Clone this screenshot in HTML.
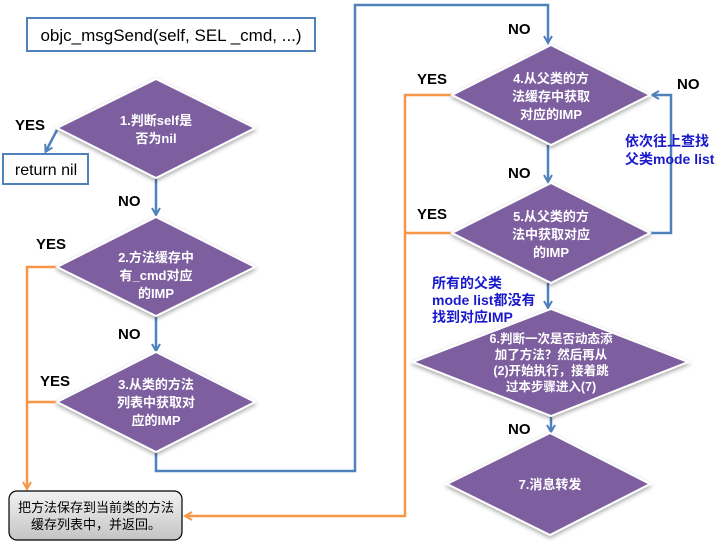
<!DOCTYPE html>
<html><head><meta charset="utf-8"><style>
html,body{margin:0;padding:0;background:#fff;width:721px;height:544px;overflow:hidden}
svg{display:block}
.dt{fill:#fff;font-family:"Liberation Sans","Noto Sans CJK SC",sans-serif;font-size:13px;font-weight:bold;text-anchor:middle}
.lb{fill:#000;font-family:"Liberation Sans","Noto Sans CJK SC",sans-serif;font-size:15px;font-weight:bold}
.bl{fill:#1a1acc;font-family:"Liberation Sans","Noto Sans CJK SC",sans-serif;font-size:14px;font-weight:bold}
.d{fill:#7d5fa0;stroke:#fff;stroke-width:2;filter:url(#sh)}
</style></head><body>
<svg width="721" height="544" viewBox="0 0 721 544" xmlns="http://www.w3.org/2000/svg">
<defs>
<filter id="sh" x="-10%" y="-10%" width="120%" height="130%"><feDropShadow dx="0" dy="2" stdDeviation="2" flood-color="#000" flood-opacity="0.35"/></filter>
<marker id="ab" markerWidth="10" markerHeight="10" refX="7" refY="5" orient="auto" markerUnits="userSpaceOnUse"><path d="M1,1 L8,5 L1,9" fill="none" stroke="#4f81bd" stroke-width="2"/></marker>
<marker id="ao" markerWidth="10" markerHeight="10" refX="7" refY="5" orient="auto" markerUnits="userSpaceOnUse"><path d="M1,1 L8,5 L1,9" fill="none" stroke="#f79646" stroke-width="2"/></marker>
<linearGradient id="gb" x1="0" y1="0" x2="0" y2="1"><stop offset="0" stop-color="#f2f2f2"/><stop offset="1" stop-color="#c4c4c4"/></linearGradient>
</defs>

<rect x="27" y="18" width="288" height="33" fill="#fff" stroke="#4f81bd" stroke-width="2"/>
<text x="171" y="41" text-anchor="middle" style="font-family:'Liberation Sans',sans-serif;font-size:17px">objc_msgSend(self, SEL _cmd, ...)</text>

<rect x="3" y="154" width="85" height="30" fill="#fff" stroke="#4f81bd" stroke-width="2"/>
<text x="46" y="175" text-anchor="middle" style="font-family:'Liberation Sans',sans-serif;font-size:16px">return nil</text>

<g fill="none" stroke="#4f81bd" stroke-width="2.5">
<path d="M57,130 L46,151" marker-end="url(#ab)"/>
<path d="M156,178 L156,214" marker-end="url(#ab)"/>
<path d="M156,316 L156,350" marker-end="url(#ab)"/>
<path d="M156,452 L156,471 L355,471 L355,5 L548,5 L548,42" marker-end="url(#ab)"/>
<path d="M548,145 L548,181" marker-end="url(#ab)"/>
<path d="M650,233 L671,233 L671,95 L653,95" marker-end="url(#ab)"/>
<path d="M548,283 L548,307" marker-end="url(#ab)"/>
<path d="M551,416 L551,431" marker-end="url(#ab)"/>
</g>
<g fill="none" stroke="#f79646" stroke-width="2.5">
<path d="M57,267 L27,267 L27,488" marker-end="url(#ao)"/>
<path d="M57,402 L27,402"/>
<path d="M452,95 L405,95 L405,516 L186,516" marker-end="url(#ao)"/>
<path d="M452,233 L405,233"/>
</g>

<polygon class="d" points="156,79 255,128 156,178 57,128"/>
<polygon class="d" points="156,217 255,267 156,316 57,267"/>
<polygon class="d" points="156,352 255,402 156,452 57,402"/>
<polygon class="d" points="551,45 650,95 551,145 452,95"/>
<polygon class="d" points="551,183 650,233 551,283 452,233"/>
<polygon class="d" points="551,309 688,362 551,416 413,362"/>
<polygon class="d" points="550,433 650,484 550,535 447,484"/>

<text class="dt" x="156" y="125">1.判断self是</text>
<text class="dt" x="156" y="143">否为nil</text>
<text class="dt" x="156" y="262">2.方法缓存中</text>
<text class="dt" x="156" y="280">有_cmd对应</text>
<text class="dt" x="156" y="298">的IMP</text>
<text class="dt" x="156" y="389">3.从类的方法</text>
<text class="dt" x="156" y="407">列表中获取对</text>
<text class="dt" x="156" y="425">应的IMP</text>
<text class="dt" x="551" y="83">4.从父类的方</text>
<text class="dt" x="551" y="101">法缓存中获取</text>
<text class="dt" x="551" y="119">对应的IMP</text>
<text class="dt" x="551" y="221">5.从父类的方</text>
<text class="dt" x="551" y="239">法中获取对应</text>
<text class="dt" x="551" y="257">的IMP</text>
<text class="dt" x="551" y="343" style="font-size:12.5px">6.判断一次是否动态添</text>
<text class="dt" x="551" y="359" style="font-size:12.5px">加了方法？然后再从</text>
<text class="dt" x="551" y="375" style="font-size:12.5px">(2)开始执行，接着跳</text>
<text class="dt" x="551" y="391" style="font-size:12.5px">过本步骤进入(7)</text>
<text class="dt" x="550" y="489">7.消息转发</text>

<text class="lb" x="15" y="130">YES</text>
<text class="lb" x="118" y="206">NO</text>
<text class="lb" x="36" y="249">YES</text>
<text class="lb" x="118" y="339">NO</text>
<text class="lb" x="40" y="386">YES</text>
<text class="lb" x="508" y="34">NO</text>
<text class="lb" x="417" y="84">YES</text>
<text class="lb" x="677" y="89">NO</text>
<text class="lb" x="508" y="178">NO</text>
<text class="lb" x="417" y="219">YES</text>
<text class="lb" x="508" y="434">NO</text>

<text class="bl" x="625" y="146">依次往上查找</text>
<text class="bl" x="625" y="164">父类mode list</text>
<text class="bl" x="432" y="288">所有的父类</text>
<text class="bl" x="432" y="305">mode list都没有</text>
<text class="bl" x="432" y="322">找到对应IMP</text>

<rect x="9" y="491" width="173" height="49" rx="8" fill="url(#gb)" stroke="#000" stroke-width="1.2"/>
<text x="96" y="512" text-anchor="middle" style="font-family:'Liberation Sans','Noto Sans CJK SC',sans-serif;font-size:13px">把方法保存到当前类的方法</text>
<text x="96" y="529" text-anchor="middle" style="font-family:'Liberation Sans','Noto Sans CJK SC',sans-serif;font-size:13px">缓存列表中，并返回。</text>
</svg>
</body></html>
